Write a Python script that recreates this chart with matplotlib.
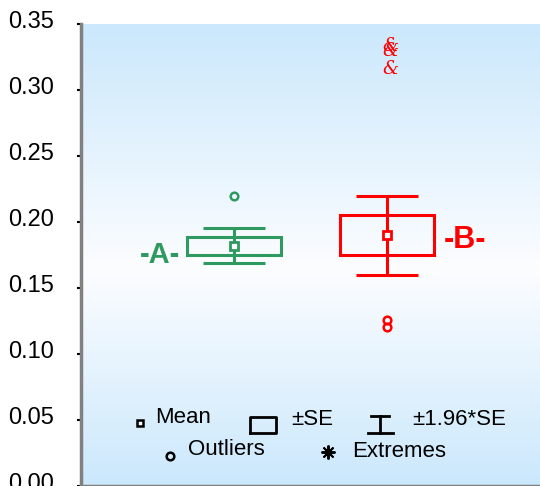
import numpy as np
import matplotlib.pyplot as plt
from matplotlib.colors import LinearSegmentedColormap
from matplotlib.transforms import ScaledTranslation

plt.rcParams['font.family'] = ['Liberation Sans', 'DejaVu Sans']

# group summaries
groups = ['-A-', '-B-']
positions = [1, 2]
means = [0.182, 0.190]
ses = [0.0068, 0.0152]
colors = ['#2f9a5f', '#ff0000']
outliers = [[0.2199], [0.1261, 0.1201]]
extremes = [[], [0.3333, 0.3295, 0.3159]]
yticks = [0.00, 0.05, 0.10, 0.15, 0.20, 0.25, 0.30, 0.35]

fig = plt.figure(figsize=(5.4, 4.86), dpi=100)
ax = fig.add_axes([81 / 540, 0.0, 1 - 81 / 540, 1 - 24 / 486])

# blue-white-blue background, lightest a bit below the middle
cmap = LinearSegmentedColormap.from_list(
    'bg', [(0, '#cbe8fc'), (0.47, '#fcfdff'), (1, '#cbe8fc')])
grad = np.linspace(0, 1, 256).reshape(-1, 1)
ax.imshow(grad, cmap=cmap, aspect='auto', extent=[0, 1, 0, 1], origin='lower',
          transform=ax.transAxes, zorder=0)

for pos, m, se, c in zip(positions, means, ses, colors):
    ax.bar(pos, 2 * se, bottom=m - se, width=0.61, fill=False,
           edgecolor=c, linewidth=2.2, zorder=2)
    ax.errorbar(pos, m, yerr=1.96 * se, fmt='none', ecolor=c, elinewidth=2.2,
                capsize=22, capthick=2.2, zorder=3)
    ax.plot(pos, m, marker='s', ms=6, mfc='white', mec=c, mew=2, zorder=4)

for pos, vals, c in zip(positions, outliers, colors):
    ax.plot([pos] * len(vals), vals, 'o', ms=5.5, mfc='none', mec=c,
            mew=1.8, zorder=4)

for pos, vals, c in zip(positions, extremes, colors):
    for v in vals:
        ax.text(pos + 0.02, v, '&', color=c, fontsize=13, family='DejaVu Serif',
                style='italic', ha='center', va='center', zorder=4)

# group labels beside the boxes
ax.text(positions[0] - 0.35, means[0] - 0.007, groups[0], color=colors[0],
        fontsize=21, fontweight='bold', ha='right', va='center')
ax.text(positions[1] + 0.37, means[1] - 0.004, groups[1], color=colors[1],
        fontsize=22, fontweight='bold', ha='left', va='center')

ax.set_xlim(0, 3)
ax.set_ylim(0, 0.35)
ax.set_xticks([])
ax.set_yticks(yticks)
ax.set_yticklabels(['%.2f' % t for t in yticks])
ax.tick_params(axis='y', length=3, width=1.5, color='black', pad=16.5,
               labelsize=17)
for lab in ax.get_yticklabels():
    lab.set_transform(lab.get_transform() + ScaledTranslation(0, 0.05, fig.dpi_scale_trans))

for s in ['top', 'right']:
    ax.spines[s].set_visible(False)
for s in ['left', 'bottom']:
    ax.spines[s].set_color('#808080')
    ax.spines[s].set_linewidth(2.5)

# key drawn inside the plot area
tr = ax.transAxes
fs = 16
ax.plot(0.1285, 0.136, marker='s', ms=5, mfc='white', mec='black', mew=1.8,
        transform=tr)
ax.text(0.161, 0.148, 'Mean', fontsize=fs, va='center', transform=tr)
bx0, bx1, by0, by1 = 0.369, 0.424, 0.115, 0.149
ax.plot([bx0, bx1, bx1, bx0, bx0], [by0, by0, by1, by1, by0], color='black',
        lw=2, transform=tr)
ax.text(0.459, 0.144, '±SE', fontsize=fs, va='center', transform=tr)
ax.plot([0.632, 0.672], [0.151, 0.151], color='black', lw=2, transform=tr)
ax.plot([0.625, 0.680], [0.115, 0.115], color='black', lw=2, transform=tr)
ax.plot([0.652, 0.652], [0.115, 0.151], color='black', lw=2, transform=tr)
ax.text(0.722, 0.144, '±1.96*SE', fontsize=fs, va='center', transform=tr)
ax.plot(0.194, 0.065, marker='o', ms=5.5, mfc='none', mec='black', mew=1.8,
        transform=tr)
ax.text(0.233, 0.080, 'Outliers', fontsize=fs, va='center', transform=tr)
ax.plot(0.5375, 0.073, marker=(8, 2, 0), ms=10, color='black', mew=1.4,
        transform=tr)
ax.text(0.590, 0.075, 'Extremes', fontsize=fs, va='center', transform=tr)

fig.savefig('out.png', dpi=100)
